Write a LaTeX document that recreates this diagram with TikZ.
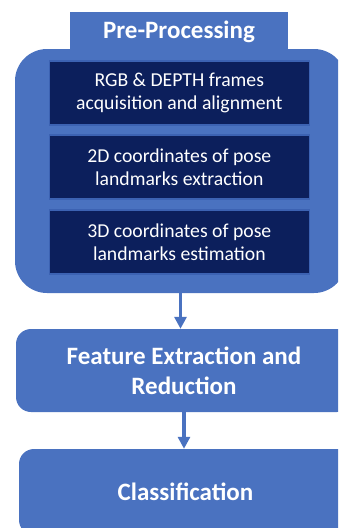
\documentclass[tikz,border=0pt]{standalone}
\usepackage{fontspec}
\setmainfont{Carlito}
\usetikzlibrary{arrows.meta}
\definecolor{mblue}{HTML}{4A72C0}
\definecolor{navy}{HTML}{0C1F5C}
\definecolor{bord}{HTML}{3C62B2}
\tikzset{
  stepbox/.style={fill=navy, draw=bord, line width=1.5pt, text=white,
    minimum width=260pt, minimum height=64pt, align=center, inner sep=0pt,
    font=\fontsize{19.7}{23}\selectfont},
  bigbox/.style={fill=mblue, draw=none, text=white, align=center, inner sep=0pt,
    font=\bfseries\fontsize{25}{30}\selectfont},
  flowarrow/.style={draw=mblue, line width=3.5pt, -{Triangle[width=12pt,length=12pt]}}
}
\begin{document}
\begin{tikzpicture}[x=1pt,y=-1pt]
\useasboundingbox (0,0) rectangle (338,528);
\clip (0,0) rectangle (338,528);
\fill[mblue] (70,12) rectangle (288,60);
\node[bigbox, rounded corners=32pt, minimum width=331pt, minimum height=244pt] (pre) at (180.5,171) {};
\node[bigbox] (title) at (179,32) {Pre-Processing};
\node[stepbox] (s1) at (179.3,93) {RGB \& DEPTH frames\\acquisition and alignment};
\node[stepbox] (s2) at (179.3,167.2) {2D coordinates of pose\\landmarks extraction};
\node[stepbox] (s3) at (179.3,242) {3D coordinates of pose\\landmarks estimation};
\node[bigbox, rounded corners=15pt, minimum width=336pt, minimum height=83pt] (fe) at (184,370.5) {Feature Extraction and\\Reduction};
\node[bigbox, rounded corners=15pt, minimum width=333pt, minimum height=86pt] (cl) at (185.5,492) {Classification};
\draw[flowarrow] (pre.south) -- (pre.south |- fe.north);
\draw[flowarrow] (fe.south) -- (fe.south |- cl.north);
\end{tikzpicture}
\end{document}
